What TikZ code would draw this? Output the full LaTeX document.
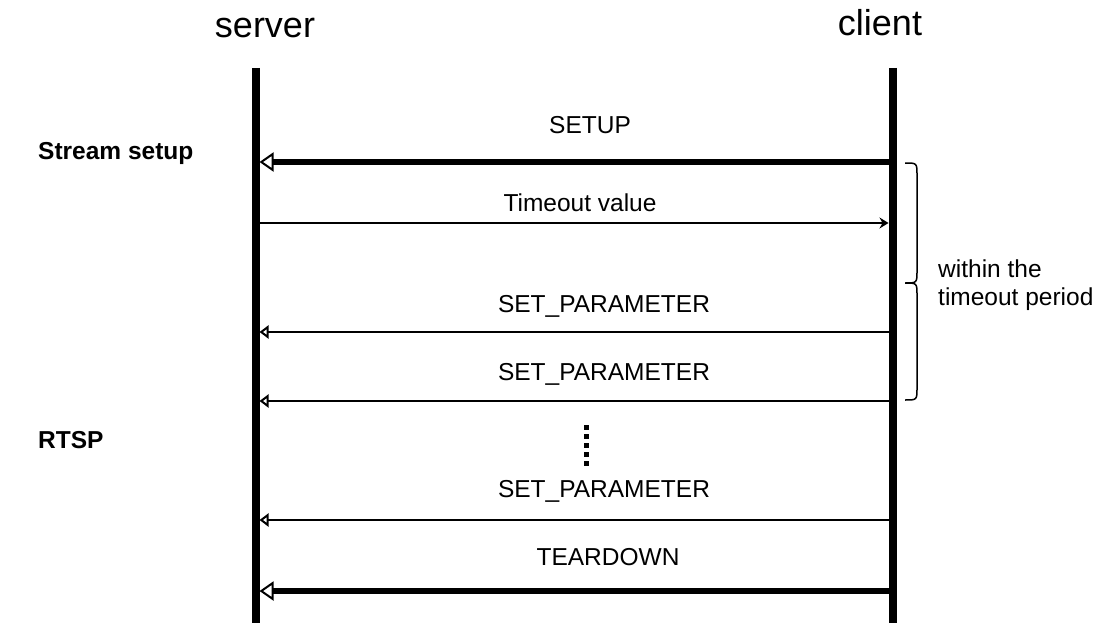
\documentclass[tikz,border=0pt]{standalone}
\usepackage{fontspec}
\setmainfont{Liberation Sans}
\usetikzlibrary{arrows.meta}
\begin{document}
\begin{tikzpicture}[x=1pt,y=-1pt,
  lifeline/.style={line width=8pt},
  bigmsg/.style={line width=6pt,-{Triangle[open,length=14pt,width=19pt,line width=2pt]}},
  smallmsg/.style={line width=2pt,-{Triangle[open,length=9pt,width=13pt,line width=2pt]}},
  replymsg/.style={line width=2pt,-{Stealth[length=9pt,width=11pt,inset=3pt]}},
  lbl/.style={font=\fontsize{24.5}{28}\selectfont,inner sep=0pt,anchor=base},
  head/.style={font=\fontsize{36}{40}\selectfont,inner sep=0pt,anchor=base},
  side/.style={font=\fontsize{24.5}{28}\selectfont\bfseries,inner sep=0pt,anchor=base west},
]
\useasboundingbox (0,0) rectangle (1108,623);
% lifelines
\coordinate (sTop) at (255.5,68);
\coordinate (sBot) at (255.5,623);
\coordinate (cTop) at (892.5,68);
\coordinate (cBot) at (892.5,623);
\draw[lifeline] (sTop) -- (sBot);
\draw[lifeline] (cTop) -- (cBot);
% headers
\node[head] (hs) at (265,38) {server};
\node[head] (hc) at (880,36) {client};
\node[side] (ss) at (38,160) {Stream setup};
\node[side] (rt) at (38,448) {RTSP};
% message points
\foreach \n/\y in {1/162,2/223,3/332,4/401,5/520,6/591}{
  \coordinate (s\n) at (259.5,\y);
  \coordinate (c\n) at (888.5,\y);
}
\draw[bigmsg] (c1) -- (s1);
\draw[replymsg] (s2) -- (c2);
\draw[smallmsg] (c3) -- (s3);
\draw[smallmsg] (c4) -- (s4);
\draw[smallmsg] (c5) -- (s5);
\draw[bigmsg] (c6) -- (s6);
% labels
\node[lbl] (l1) at (590,134) {SETUP};
\node[lbl] (l2) at (580,211) {Timeout value};
\node[lbl] (l3) at (604,312) {SET\_PARAMETER};
\node[lbl] (l4) at (604,380) {SET\_PARAMETER};
\node[lbl] (l5) at (604,497) {SET\_PARAMETER};
\node[lbl] (l6) at (608,565) {TEARDOWN};
% dots
\coordinate (d1) at (586.5,425);
\coordinate (d2) at (586.5,469);
\draw[line width=4.5pt,dash pattern=on 4.5pt off 4.5pt] (d1) -- (d2);
% brace
\draw[line width=1.5pt] (905,163) .. controls (917,163) .. (917,175) -- (917,271)
  .. controls (917,283) .. (905,283) .. controls (917,283) .. (917,295) -- (917,388)
  .. controls (917,400) .. (905,400);
\node[font=\fontsize{24.5}{28}\selectfont,inner sep=0pt,anchor=base west] (w1) at (938,277) {within the};
\node[font=\fontsize{24.5}{28}\selectfont,inner sep=0pt,anchor=base west] (w2) at (938,305) {timeout period};
\end{tikzpicture}
\end{document}
